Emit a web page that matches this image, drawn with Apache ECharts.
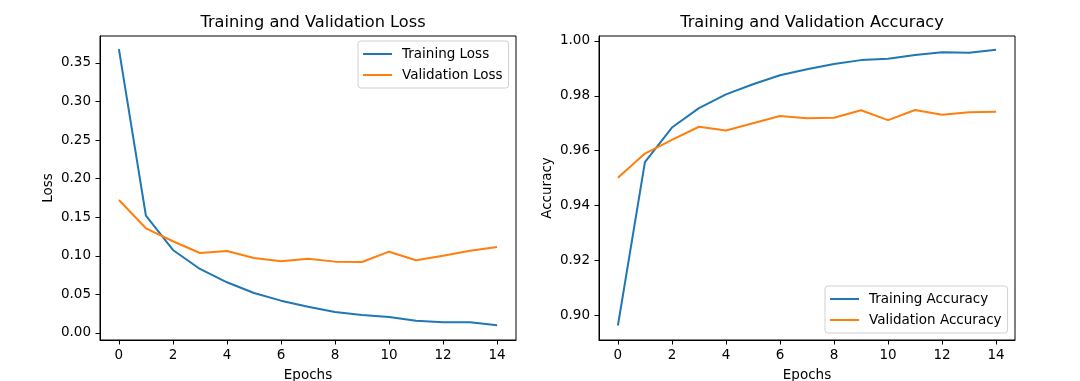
<!DOCTYPE html>
<html>
<head>
<meta charset="utf-8">
<script src="https://cdn.jsdelivr.net/npm/echarts@6/dist/echarts.min.js"></script>
<style>
html,body{margin:0;padding:0;background:#fff;}
#chart{width:1080px;height:381px;}
</style>
</head>
<body>
<div id="chart"></div>
<script>
const epochs = [0,1,2,3,4,5,6,7,8,9,10,11,12,13,14];
const trainLoss = [0.368,0.152,0.1076,0.083,0.0657,0.0518,0.0419,0.0341,0.0272,0.0233,0.0207,0.016,0.0138,0.0138,0.0099];
const valLoss = [0.1724,0.1357,0.1189,0.1037,0.1063,0.0972,0.0929,0.0963,0.0925,0.092,0.1054,0.0942,0.1002,0.1067,0.1115];
const trainAcc = [0.8962,0.9558,0.9684,0.9755,0.9805,0.9842,0.9875,0.9897,0.9916,0.9930,0.9935,0.9949,0.9959,0.9957,0.9968];
const valAcc = [0.9501,0.9589,0.9639,0.9687,0.9673,0.9700,0.9726,0.9718,0.9720,0.9747,0.9711,0.9748,0.9731,0.9740,0.9742];
const xTicks = [0,2,4,6,8,10,12,14];
const lossTicks = [0,0.05,0.10,0.15,0.20,0.25,0.30,0.35];
const accTicks = [0.90,0.92,0.94,0.96,0.98,1.00];

const FONT = 'DejaVu Sans';
const FS = 13.5;
const BLUE = '#1f77b4', ORANGE = '#ff7f0e';
const pairs = (ys) => epochs.map((e,i)=>[e, ys[i]]);

function xAxis(gi){
  return {
    type:'value', gridIndex:gi, min:-0.7, max:14.7,
    name:'Epochs', nameLocation:'middle', nameGap:28,
    nameTextStyle:{fontFamily:FONT,fontSize:FS,color:'#000'},
    axisLine:{show:true,onZero:false,lineStyle:{color:'#000',width:1}},
    axisTick:{show:true,length:4.5,lineStyle:{color:'#000'},customValues:xTicks},
    axisLabel:{fontFamily:FONT,fontSize:FS,color:'#000',margin:8,customValues:xTicks,formatter:v=>String(v)},
    splitLine:{show:false}
  };
}
function yAxis(gi,name,min,max,ticks){
  return {
    type:'value', gridIndex:gi, min:min, max:max,
    name:name, nameLocation:'middle', nameGap:45, nameRotate:90,
    nameTextStyle:{fontFamily:FONT,fontSize:FS,color:'#000'},
    axisLine:{show:true,onZero:false,lineStyle:{color:'#000',width:1}},
    axisTick:{show:true,length:4.5,lineStyle:{color:'#000'},customValues:ticks},
    axisLabel:{fontFamily:FONT,fontSize:FS,color:'#000',margin:9,customValues:ticks,formatter:v=>v.toFixed(2)},
    splitLine:{show:false}
  };
}
function line(name,gi,ys,color){
  return {name:name,type:'line',xAxisIndex:gi,yAxisIndex:gi,data:pairs(ys),
    showSymbol:false,symbol:'none',lineStyle:{color:color,width:2},itemStyle:{color:color},
    animation:false,z:3};
}
const legendBase = {
  orient:'vertical', itemWidth:29, itemHeight:14, itemGap:7,
  textStyle:{fontFamily:FONT,fontSize:FS,color:'#000',lineHeight:14,padding:[0,0,0,5]},
  backgroundColor:'rgba(255,255,255,0.8)', borderColor:'#d0d0d0', borderWidth:1, borderRadius:3,
  padding:[6,6,6,5], icon:'path://M0,6 L29,6 L29,8 L0,8 Z'
};
const chart = echarts.init(document.getElementById('chart'),null,{renderer:'canvas'});
chart.setOption({
  animation:false,
  backgroundColor:'#fff',
  title:[
    {text:'Training and Validation Loss',left:308,top:10,textAlign:'center',textStyle:{fontFamily:FONT,fontSize:16.2,fontWeight:'normal',color:'#000'}},
    {text:'Training and Validation Accuracy',left:807,top:10,textAlign:'center',textStyle:{fontFamily:FONT,fontSize:16.2,fontWeight:'normal',color:'#000'}}
  ],
  grid:[
    {left:100,top:36,width:416,height:304,show:true,borderColor:'#000',borderWidth:1,backgroundColor:'transparent',containLabel:false,outerBoundsMode:'none'},
    {left:599,top:36,width:416,height:304,show:true,borderColor:'#000',borderWidth:1,backgroundColor:'transparent',containLabel:false,outerBoundsMode:'none'}
  ],
  xAxis:[xAxis(0),xAxis(1)],
  yAxis:[yAxis(0,'Loss',-0.0091,0.385,lossTicks), yAxis(1,'Accuracy',0.8909,1.0018,accTicks)],
  legend:[
    Object.assign({},legendBase,{data:['Training Loss','Validation Loss'],left:358,top:41}),
    Object.assign({},legendBase,{data:['Training Accuracy','Validation Accuracy'],left:825,top:286})
  ],
  series:[
    line('Training Loss',0,trainLoss,BLUE),
    line('Validation Loss',0,valLoss,ORANGE),
    line('Training Accuracy',1,trainAcc,BLUE),
    line('Validation Accuracy',1,valAcc,ORANGE)
  ]
});
</script>
</body>
</html>
